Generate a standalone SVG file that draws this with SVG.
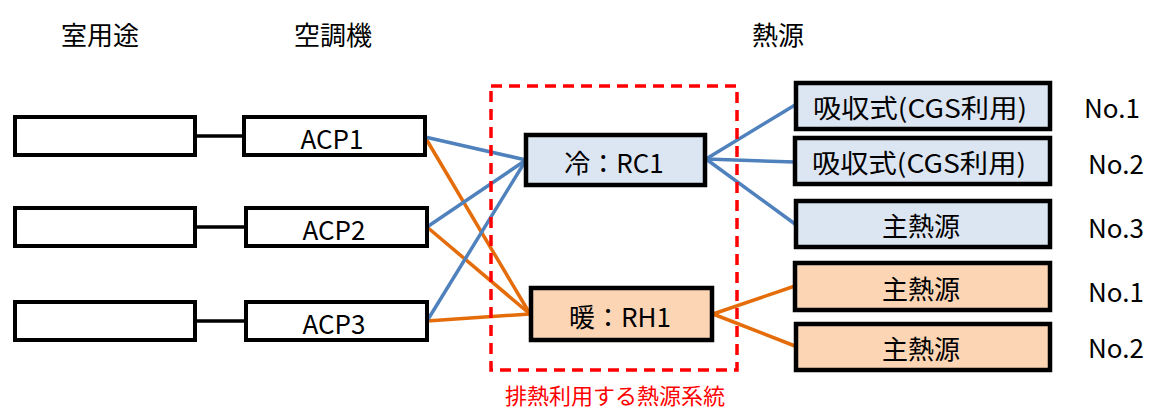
<svg xmlns="http://www.w3.org/2000/svg" width="1153" height="410" viewBox="0 0 1153 410">
<style>
text{font-family:"Noto Sans CJK JP","Noto Sans",sans-serif;font-size:26px;fill:#000;text-anchor:middle;dominant-baseline:central}
.box{fill:#fff;stroke:#000;stroke-width:4}
.cool{fill:#DCE6F2;stroke:#000;stroke-width:4.5}
.heat{fill:#FCD5B5;stroke:#000;stroke-width:4.5}
.b{stroke:#4F81BD;stroke-width:3.5;fill:none}
.o{stroke:#E46C0A;stroke-width:3.5;fill:none}
.k{stroke:#000;stroke-width:3.5;fill:none}
.lbl{text-anchor:start}
</style>
<rect width="1153" height="410" fill="#fff"/>
<text x="100" y="33">室用途</text>
<text x="333" y="33">空調機</text>
<text x="778" y="33">熱源</text>
<g id="connectors">
<line class="k" x1="195" y1="136" x2="243" y2="136"/>
<line class="k" x1="195" y1="227" x2="245" y2="227"/>
<line class="k" x1="195" y1="321" x2="245" y2="321"/>
<line class="o" x1="425" y1="137" x2="530" y2="314"/>
<line class="o" x1="427" y1="227" x2="530" y2="314"/>
<line class="o" x1="427" y1="321" x2="530" y2="314"/>
<line class="b" x1="425" y1="137" x2="526" y2="160"/>
<line class="b" x1="427" y1="227" x2="526" y2="160"/>
<line class="b" x1="427" y1="321" x2="526" y2="160"/>
<line class="b" x1="706" y1="159" x2="795" y2="105"/>
<line class="b" x1="706" y1="159" x2="795" y2="162"/>
<line class="b" x1="706" y1="159" x2="795" y2="224"/>
<line class="o" x1="713" y1="314" x2="795" y2="286"/>
<line class="o" x1="713" y1="314" x2="795" y2="346"/>
</g>
<g id="room1"><rect class="box" x="15" y="117" width="180" height="38"/></g>
<g id="room2"><rect class="box" x="15" y="208" width="180" height="38"/></g>
<g id="room3"><rect class="box" x="15" y="302" width="180" height="38"/></g>
<g id="acp1"><rect class="box" x="244" y="117" width="181" height="38"/><text x="332" y="137">ACP1</text></g>
<g id="acp2"><rect class="box" x="246" y="208" width="181" height="38"/><text x="334" y="228">ACP2</text></g>
<g id="acp3"><rect class="box" x="246" y="302" width="181" height="38"/><text x="334" y="322">ACP3</text></g>
<g id="system">
<rect x="491" y="86" width="246" height="284" fill="none" stroke="#FF0000" stroke-width="3.5" stroke-dasharray="11,7"/>
<text x="615" y="394" style="fill:#FF0000;font-size:22px">排熱利用する熱源系統</text>
</g>
<g id="rc1"><rect class="cool" x="526" y="135" width="179" height="50"/><text x="614" y="161">冷：RC1</text></g>
<g id="rh1"><rect class="heat" x="531" y="288" width="181" height="52"/><text x="620" y="315">暖：RH1</text></g>
<g id="c1"><rect class="cool" x="796" y="83" width="254" height="46"/><text x="920" y="106" textLength="214" lengthAdjust="spacingAndGlyphs">吸収式(CGS利用)</text></g>
<g id="c2"><rect class="cool" x="795" y="138" width="255" height="46"/><text x="919" y="161" textLength="214" lengthAdjust="spacingAndGlyphs">吸収式(CGS利用)</text></g>
<g id="c3"><rect class="cool" x="796" y="201" width="254" height="46"/><text x="921" y="224">主熱源</text></g>
<g id="h1"><rect class="heat" x="795" y="263" width="255" height="47"/><text x="921" y="287">主熱源</text></g>
<g id="h2"><rect class="heat" x="796" y="324" width="254" height="46"/><text x="921" y="347">主熱源</text></g>
<text class="lbl" x="1084" y="106">No.1</text>
<text class="lbl" x="1088" y="162">No.2</text>
<text class="lbl" x="1088" y="226">No.3</text>
<text class="lbl" x="1088" y="290">No.1</text>
<text class="lbl" x="1088" y="346">No.2</text>
</svg>
